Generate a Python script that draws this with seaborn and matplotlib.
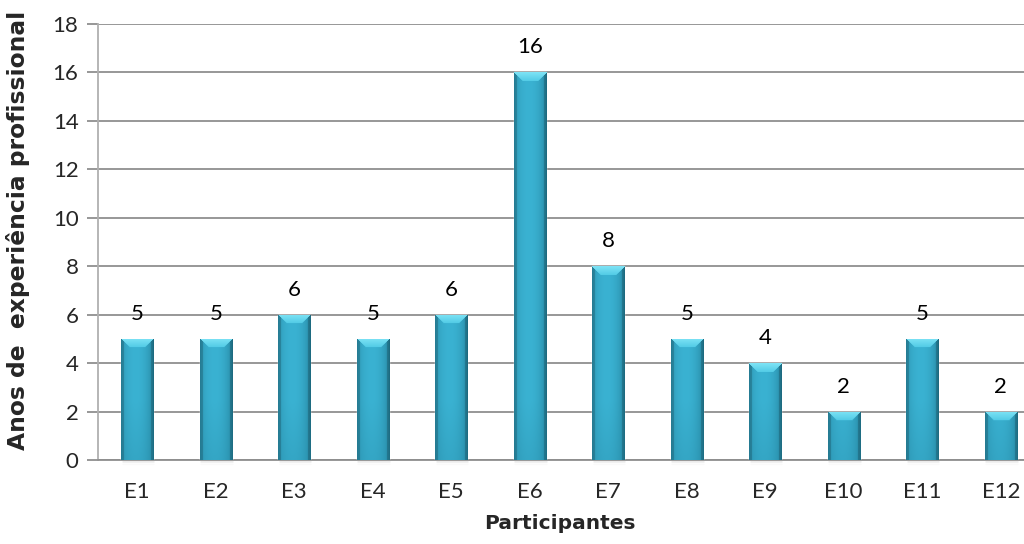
import numpy as np
import pandas as pd
import matplotlib
matplotlib.use("Agg")
import matplotlib.pyplot as plt
import seaborn as sns
from matplotlib.colors import to_rgb

participantes = ["E1", "E2", "E3", "E4", "E5", "E6", "E7", "E8", "E9", "E10", "E11", "E12"]
anos = [5, 5, 6, 5, 6, 16, 8, 5, 4, 2, 5, 2]
y_ticks = [0, 2, 4, 6, 8, 10, 12, 14, 16, 18]

sns.set_theme(style="white")
plt.rcParams["font.family"] = ["Lato", "DejaVu Sans"]

W, H = 1024, 544
fig = plt.figure(figsize=(W / 100, H / 100), dpi=100)
ax = fig.add_axes([98 / W, (H - 460) / H, 942 / W, 436 / H])

df = pd.DataFrame({"Participantes": participantes, "Anos": anos})
sns.barplot(data=df, x="Participantes", y="Anos", color="#33a6c6",
            width=0.41, saturation=1, ax=ax, zorder=3)

ax.set_ylim(0, 18)
ax.set_xlim(-0.5, len(participantes) - 0.5)
ax.set_yticks(y_ticks)
ax.yaxis.grid(True, color="#8f8f8f", linewidth=1.3, zorder=0)
ax.set_axisbelow(True)
for s in ["top", "right"]:
    ax.spines[s].set_visible(False)
ax.spines["left"].set_color("#b0b0b0")
ax.spines["left"].set_linewidth(1.3)
ax.spines["bottom"].set_color("#8f8f8f")
ax.spines["bottom"].set_linewidth(1.3)
ax.tick_params(axis="y", length=8, width=1.3, color="#8f8f8f", labelsize=16,
               pad=6, left=True)
ax.tick_params(axis="x", length=0, labelsize=16, pad=16)

ax.set_ylabel("Anos de  experiência profissional", fontsize=16.8,
              fontweight="bold", family="DejaVu Sans")
ax.yaxis.set_label_coords(-0.072, 0.527)
ax.set_xlabel("Participantes", fontsize=14.5, fontweight="bold",
              family="DejaVu Sans")
ax.xaxis.set_label_coords(0.49, -0.124)

# Shaded, bevelled fill for each bar, clipped to the bar's own shape
body_c = np.array(to_rgb("#3ab2d2"))
edge_c = np.array(to_rgb("#1f7891"))
top_c = np.array(to_rgb("#7fe4f6"))
base_c = np.array(to_rgb("#2a90ad"))

fig.canvas.draw()
to_px = ax.transData
for patch, val in zip(ax.patches, anos):
    x0, w = patch.get_x(), patch.get_width()
    (px0, py0) = to_px.transform((x0, 0))
    (px1, py1) = to_px.transform((x0 + w, val))
    wpx = int(round(px1 - px0))
    hpx = int(round(py1 - py0))
    if wpx < 2 or hpx < 2:
        continue
    xs = (np.arange(wpx) + 0.5)
    ys = (np.arange(hpx) + 0.5)
    X, Y = np.meshgrid(xs, ys)  # Y measured from top
    u = X / wpx
    # horizontal profile: brighter slightly left of centre, darker sides
    prof = np.clip(1 - ((u - 0.45) / 0.55) ** 2, 0, 1) ** 0.6
    img = edge_c + (body_c - edge_c) * prof[..., None]
    # darker towards the base
    fb = np.clip(1 - (hpx - Y) / 60.0, 0, 1)[..., None] * 0.35
    img = img * (1 - fb) + base_c * fb
    # side bevel
    e = np.minimum(X, wpx - X)
    side = (e < 3.0)[..., None]
    img = np.where(side, img * 0.82, img)
    # top bevel (trapezoid)
    depth = 9.0
    topm = ((Y < depth) & (Y < e + 0.5))
    t = np.clip(Y / depth, 0, 1)[..., None]
    topcol = top_c * (1 - t) + np.array(to_rgb("#52cbe6")) * t
    img = np.where(topm[..., None], topcol, img)
    im = ax.imshow(img, extent=(x0, x0 + w, 0, val), origin="upper",
                   aspect="auto", zorder=4, interpolation="bilinear")
    im.set_clip_path(patch)
    # soft shadow under the bar
    for k, a in enumerate([0.07, 0.04, 0.02]):
        ax.plot([x0 + 0.01, x0 + w + 0.01], [-0.05 * (k + 1)] * 2,
                color="black", alpha=a, lw=1.0, zorder=2, clip_on=False,
                solid_capstyle="butt")

ax.set_xlim(-0.5, len(participantes) - 0.5)
ax.set_ylim(0, 18)

for i, v in enumerate(anos):
    ax.annotate(f"{v}", (i, v), xytext=(0, 18), textcoords="offset points",
                ha="center", va="center", fontsize=16, color="#000000",
                zorder=6)

fig.savefig("out.png", dpi=100)
